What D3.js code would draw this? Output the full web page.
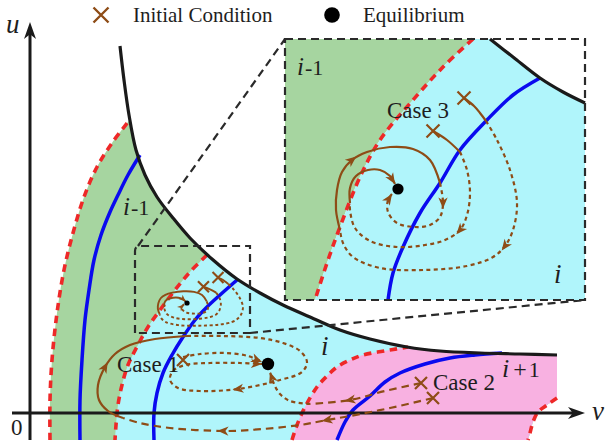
<!DOCTYPE html>
<html>
<head>
<meta charset="utf-8">
<script src="https://cdn.jsdelivr.net/npm/d3@7"></script>
<style>
  html, body { margin: 0; padding: 0; background: #fff; }
  svg { display: block; }
</style>
</head>
<body>
<svg id="chart" width="608" height="445"></svg>
<script>
// ---------- phase plane (v, u) ----------
// switching curve (black)
const switchCurve = [[90,367],[94,333],[99,298],[106,263],[115,238],[127,216],[143,195],[160,175],[182,154],[207,134],[230,120],[253,108],[280,96],[310,83],[340,74],[377,66],[410,62],[450,60],[490,59],[527,58]];
// region borders (red dashed)
const outerBoundary = [[20,-27],[20,13],[22,53],[27,100],[34,143],[43,180],[54,216],[67,246],[82,270],[98,291]];
const innerBoundary = [[177,158],[160,141],[145,123],[130,103],[118,86],[108,68],[98,48],[92,28],[88,8],[86,-12],[85,-27]];
const upperBoundary = [[262,-27],[267,-12],[275,6],[287,26],[297,37],[307,46],[320,53],[333,58],[360,63],[378,66]];
const edgeBoundary = [[527,15],[517,8],[508,1],[503,-9],[500,-20],[498,-27]];
// nullclines (blue)
const nullclineLeft = [[110,258],[98,238],[88,218],[80,201],[71,178],[64,153],[59,123],[55,93],[52,53],[50,13],[50,-27]];
const nullclineMid = [[207,133],[190,118],[177,106],[165,93],[153,76],[142,58],[133,40],[127,20],[124,0],[124,-27]];
const nullclineRight = [[472,60],[445,58],[420,55],[395,49],[370,40],[355,31],[340,17],[323,3],[315,-9],[307,-27]];

// equilibrium and initial conditions
const equilibrium = [238, 49];
const case1Start = [153, 53];
const case2Starts = [[391, 30], [403, 15]];

// trajectories
const case1Path = [[153,56],[170,59],[195,60],[218,57],[232,51]];
const case2aStraight = [[391,30],[355,22],[320,13],[280,9]];
const case2aHook = [[280,9],[260,12],[250,19],[244,29],[240,41]];
const case2bOut = [[403,15],[360,5],[320,-3],[297,-7],[270,-12],[220,-17],[193,-18],[140,-15],[110,-10],[93,-5]];
const case2bLoop = [[93,-5],[78,2],[69,13],[68,28],[75,46],[85,59],[100,68],[125,74],[157,77]];
const case2bSpiral = [[157,77],[193,77],[230,75],[253,70],[270,62],[277,51],[272,41],[250,33],[208,24],[170,22],[148,25],[140,33],[143,42],[155,48],[180,50],[210,50],[232,49]];

// magnified window around case 3 (window units)
const zoomWindow = { v: [105, 220], u: [80, 167] };
const insetSwitch = [[205,261],[228,243],[255,222],[278,208],[300,197]];
const insetBoundary = [[188,261],[158,233],[128,200],[95,160],[75,123],[55,73],[42,37],[30,0]];
const insetNullcline = [[255,222],[228,205],[202,180],[175,150],[155,117],[135,87],[118,53],[108,27],[103,0]];
const insetEquilibrium = [113, 111];
const case3Starts = [[179, 202], [148, 169]];
const case3aEntry = [[179,202],[189,194],[195,187],[201,179]];
const case3aLoop1 = [[201,179],[212,160],[225,130],[232,97],[228,70],[220,54],[208,43],[182,34],[138,30],[95,32],[68,43],[58,57],[55,70]];
const case3aArc = [[55,70],[51,90],[52,110],[57,128],[67,140],[82,148],[105,153],[128,151],[145,140],[155,117]];
const case3aLoop2 = [[155,117],[158,97],[155,83],[145,75],[130,73],[112,77],[103,88],[103,100],[107,106]];
const case3bEntry = [[148,169],[162,160],[175,148]];
const case3bLoop = [[175,148],[182,130],[185,107],[182,85],[175,70],[160,60],[140,55],[112,53],[85,59],[70,72],[65,90],[65,97]];
const case3bArc = [[65,97],[65,112],[71,124],[83,130],[95,130],[105,124],[110,116]];

// ---------- drawing ----------
const C = {
  green: "#a6d5a0", cyan: "#b0f5fb", pink: "#f8b1e1",
  red: "#ee2828", blue: "#0a0aef", black: "#1a1a1a", brown: "#8e4c16", frame: "#2a2a2a"
};
const SERIF = "'Liberation Serif', 'DejaVu Serif', 'Times New Roman', serif";

const svg = d3.select("#chart");
const defs = svg.append("defs");

const x = d3.scaleLinear().domain([0, 555]).range([30, 585]);
const y = d3.scaleLinear().domain([0, 391]).range([413, 22]);
// magnified view
const ix = d3.scaleLinear().domain([0, 300]).range([285, 585]);
const iy = d3.scaleLinear().domain([0, 261]).range([300, 39]);
// same window drawn small inside the main plane
const sx = d3.scaleLinear().domain([0, 300]).range([133.9, 274.9]);
const sy = d3.scaleLinear().domain([0, 261]).range([334.1, 261]);

const smooth = (fx, fy) => d3.line().x(d => fx(d[0])).y(d => fy(d[1])).curve(d3.curveCatmullRom.alpha(0.5));
const poly = (pts, fx, fy) => pts.map((d, i) => (i ? "L" : "M") + fx(d[0]) + "," + fy(d[1])).join("");
const joined = pieces => pieces.map((p, i) => i ? p.replace(/^M/, "L") : p).join("") + "Z";

const line = smooth(x, y), iline = smooth(ix, iy), sline = smooth(sx, sy);

// ----- main regions -----
defs.append("clipPath").attr("id", "mainClip").append("path")
  .attr("d", joined([line(switchCurve), line(edgeBoundary), poly([[15, -27], [15, 367]], x, y)]));

const regions = svg.append("g").attr("clip-path", "url(#mainClip)");
regions.append("path").attr("fill", C.green)
  .attr("d", joined([line(outerBoundary), poly([[110, 307], [570, 307], [570, -27]], x, y)]));
regions.append("path").attr("fill", C.cyan)
  .attr("d", joined([line(innerBoundary.slice().reverse()), poly([[190, 173], [570, 173], [570, -27]], x, y)]));
regions.append("path").attr("fill", C.pink)
  .attr("d", joined([line(upperBoundary), poly([[390, 73], [570, 73], [570, -27]], x, y)]));

const curves = svg.append("g").attr("fill", "none");
[outerBoundary, innerBoundary, upperBoundary, edgeBoundary].forEach(b =>
  curves.append("path").attr("d", line(b)).attr("stroke", C.red).attr("stroke-width", 3.6).attr("stroke-dasharray", "7.5 5.5"));
[nullclineLeft, nullclineMid, nullclineRight].forEach(b =>
  curves.append("path").attr("d", line(b)).attr("stroke", C.blue).attr("stroke-width", 3.5));
curves.append("path").attr("d", line(switchCurve)).attr("stroke", C.black).attr("stroke-width", 3.2);

// ----- axes -----
const axes = svg.append("g");
function arrowTip(g, tipX, tipY, angle, len, half, color) {
  g.append("path")
    .attr("d", `M0,0L${-len},${-half}L${-len * 0.72},0L${-len},${half}Z`)
    .attr("transform", `translate(${tipX},${tipY}) rotate(${angle})`)
    .attr("fill", color);
}
axes.append("line").attr("x1", x(-18)).attr("x2", x(548)).attr("y1", y(0)).attr("y2", y(0))
  .attr("stroke", C.black).attr("stroke-width", 3);
arrowTip(axes, x(555), y(0), 0, 17, 6, C.black);
axes.append("line").attr("x1", x(0)).attr("x2", x(0)).attr("y1", y(-27)).attr("y2", y(384))
  .attr("stroke", C.black).attr("stroke-width", 3);
arrowTip(axes, x(0), y(391), -90, 17, 6, C.black);

// ----- zoom window frame and connectors -----
const frame = svg.append("g").attr("fill", "none").attr("stroke", C.frame)
  .attr("stroke-width", 2.2).attr("stroke-dasharray", "8 5");
const wx0 = x(zoomWindow.v[0]), wx1 = x(zoomWindow.v[1]), wy0 = y(zoomWindow.u[1]), wy1 = y(zoomWindow.u[0]);
frame.append("path").attr("d", `M${wx0},${wy1}L${wx0},${wy0 + 5}Q${wx0},${wy0} ${wx0 + 5},${wy0}L${wx1},${wy0}L${wx1},${wy1}Z`);
frame.append("line").attr("x1", wx0 + 3).attr("y1", wy0).attr("x2", ix(0)).attr("y2", iy(261));
frame.append("line").attr("x1", wx1).attr("y1", wy1).attr("x2", ix(300)).attr("y2", iy(0));

// ----- inset -----
defs.append("clipPath").attr("id", "insetClip").append("path")
  .attr("d", joined([poly([[0, 0], [0, 261]], ix, iy), iline(insetSwitch), poly([[300, 197], [300, 0]], ix, iy)]));
const inset = svg.append("g");
const insetFill = inset.append("g").attr("clip-path", "url(#insetClip)");
insetFill.append("path").attr("fill", C.green)
  .attr("d", joined([poly([[0, 0], [0, 261]], ix, iy), iline(insetBoundary)]));
insetFill.append("path").attr("fill", C.cyan)
  .attr("d", joined([iline(insetBoundary), poly([[300, 0], [300, 261]], ix, iy)]));
inset.append("path").attr("d", iline(insetBoundary)).attr("fill", "none")
  .attr("stroke", C.red).attr("stroke-width", 3.6).attr("stroke-dasharray", "7.5 5.5");
inset.append("path").attr("d", iline(insetNullcline)).attr("fill", "none")
  .attr("stroke", C.blue).attr("stroke-width", 3.5);
inset.append("path").attr("d", iline(insetSwitch)).attr("fill", "none")
  .attr("stroke", C.black).attr("stroke-width", 3.2);
inset.append("rect").attr("x", ix(0)).attr("y", iy(261)).attr("width", ix(300) - ix(0)).attr("height", iy(0) - iy(261))
  .attr("fill", "none").attr("stroke", C.frame).attr("stroke-width", 2.2).attr("stroke-dasharray", "8 5");

// ----- trajectories -----
const traj = svg.append("g").attr("fill", "none");
function arrowHead(g, pts, k, fx, fy, size) {
  const P = pts.map(d => [fx(d[0]), fy(d[1])]);
  const last = k === P.length - 1;
  const a = P[k - 1], b = last ? P[k] : P[k + 1];
  const ang = Math.atan2(b[1] - a[1], b[0] - a[0]);
  const off = last ? 0 : size / 2;
  const tx = P[k][0] + Math.cos(ang) * off, ty = P[k][1] + Math.sin(ang) * off;
  arrowTip(g, tx, ty, ang * 180 / Math.PI, size, size * 0.42, C.brown);
}
function drawPath(pts, fx, fy, gen, dash, width, arrows, size) {
  const p = traj.append("path").attr("d", gen(pts)).attr("stroke", C.brown).attr("stroke-width", width);
  if (dash) p.attr("stroke-dasharray", dash);
  (arrows || []).forEach(k => arrowHead(traj, pts, k, fx, fy, size));
}
const SHORT = "4 3.4", LONG = "7.5 5";

// case 1 and case 2 in the main plane
drawPath(case1Path, x, y, line, SHORT, 2.2, [4], 11);
drawPath(case2aStraight, x, y, line, LONG, 2.2, [2], 11);
drawPath(case2aHook, x, y, line, SHORT, 2.2, [4], 11);
drawPath(case2bOut, x, y, line, LONG, 2.2, [3, 6], 11);
drawPath(case2bLoop, x, y, line, null, 2.2, [4], 11);
drawPath(case2bSpiral, x, y, line, SHORT, 2.2, [8, 16], 11);

// case 3, small window
drawPath(case3aEntry, sx, sy, sline, null, 1.9);
drawPath(case3aLoop1, sx, sy, sline, "3 2.6", 1.9);
drawPath(case3aArc, sx, sy, sline, null, 1.9);
drawPath(case3aLoop2, sx, sy, sline, "3 2.6", 1.9, [8], 7);
drawPath(case3bEntry, sx, sy, sline, null, 1.9);
drawPath(case3bLoop, sx, sy, sline, "3 2.6", 1.9);
drawPath(case3bArc, sx, sy, sline, null, 1.9, [6], 7);

// case 3, magnified
drawPath(case3aEntry, ix, iy, iline, null, 2.2);
drawPath(case3aLoop1, ix, iy, iline, SHORT, 2.2, [5], 11);
drawPath(case3aArc, ix, iy, iline, null, 2.2, [4], 11);
drawPath(case3aLoop2, ix, iy, iline, SHORT, 2.2, [1, 8], 11);
drawPath(case3bEntry, ix, iy, iline, null, 2.2);
drawPath(case3bLoop, ix, iy, iline, SHORT, 2.2, [4], 11);
drawPath(case3bArc, ix, iy, iline, null, 2.2, [6], 11);

// ----- labels -----
const labels = svg.append("g").attr("font-family", SERIF).attr("fill", "#1e1e1e");
function mathLabel(px, py, size, parts) {
  const t = labels.append("text").attr("x", px).attr("y", py).attr("font-size", size);
  parts.forEach(([s, italic, dx, fs]) => {
    const sp = t.append("tspan").text(s);
    if (italic) sp.attr("font-style", "italic");
    if (dx) sp.attr("dx", dx);
    if (fs) sp.attr("font-size", fs);
  });
}
labels.append("text").attr("x", 11).attr("y", 435).attr("font-size", 23).text("0");
labels.append("text").attr("x", 6).attr("y", 33).attr("font-size", 27).attr("font-style", "italic").text("u");
labels.append("text").attr("x", 592).attr("y", 420).attr("font-size", 27).attr("font-style", "italic").text("v");
labels.append("text").attr("x", 117).attr("y", 372).attr("font-size", 23).text("Case 1");
labels.append("text").attr("x", 433).attr("y", 390).attr("font-size", 23).text("Case 2");
labels.append("text").attr("x", 387).attr("y", 118).attr("font-size", 23).text("Case 3");
mathLabel(123, 215, 25, [["i", true], ["-1", false, 1, 22]]);
mathLabel(321, 355, 27, [["i", true]]);
mathLabel(502, 377, 26, [["i", true], ["+", false, 4, 24], ["1", false, 2, 22]]);
mathLabel(297, 75, 25, [["i", true], ["-1", false, 1, 22]]);
mathLabel(554, 283, 27, [["i", true]]);

// ----- markers -----
const marks = svg.append("g");
function cross(cx, cy, r, w) {
  marks.append("path").attr("d", `M${cx - r},${cy - r}L${cx + r},${cy + r}M${cx - r},${cy + r}L${cx + r},${cy - r}`)
    .attr("stroke", C.brown).attr("stroke-width", w).attr("fill", "none");
}
function dot(cx, cy, r) { marks.append("circle").attr("cx", cx).attr("cy", cy).attr("r", r).attr("fill", "#000"); }

cross(x(case1Start[0]), y(case1Start[1]), 6, 2.2);
case2Starts.forEach(d => cross(x(d[0]), y(d[1]), 6, 2.2));
dot(x(equilibrium[0]), y(equilibrium[1]), 6.2);
case3Starts.forEach(d => cross(sx(d[0]), sy(d[1]), 5.5, 2.1));
dot(sx(insetEquilibrium[0]), sy(insetEquilibrium[1]), 2.6);
case3Starts.forEach(d => cross(ix(d[0]), iy(d[1]), 6.5, 2.2));
dot(ix(insetEquilibrium[0]), iy(insetEquilibrium[1]), 5.6);

// legend
cross(101, 15, 7.5, 2.4);
labels.append("text").attr("x", 133).attr("y", 22).attr("font-size", 21).text("Initial Condition");
dot(332, 15, 7.8);
labels.append("text").attr("x", 363).attr("y", 22).attr("font-size", 21).text("Equilibrium");
</script>
</body>
</html>
